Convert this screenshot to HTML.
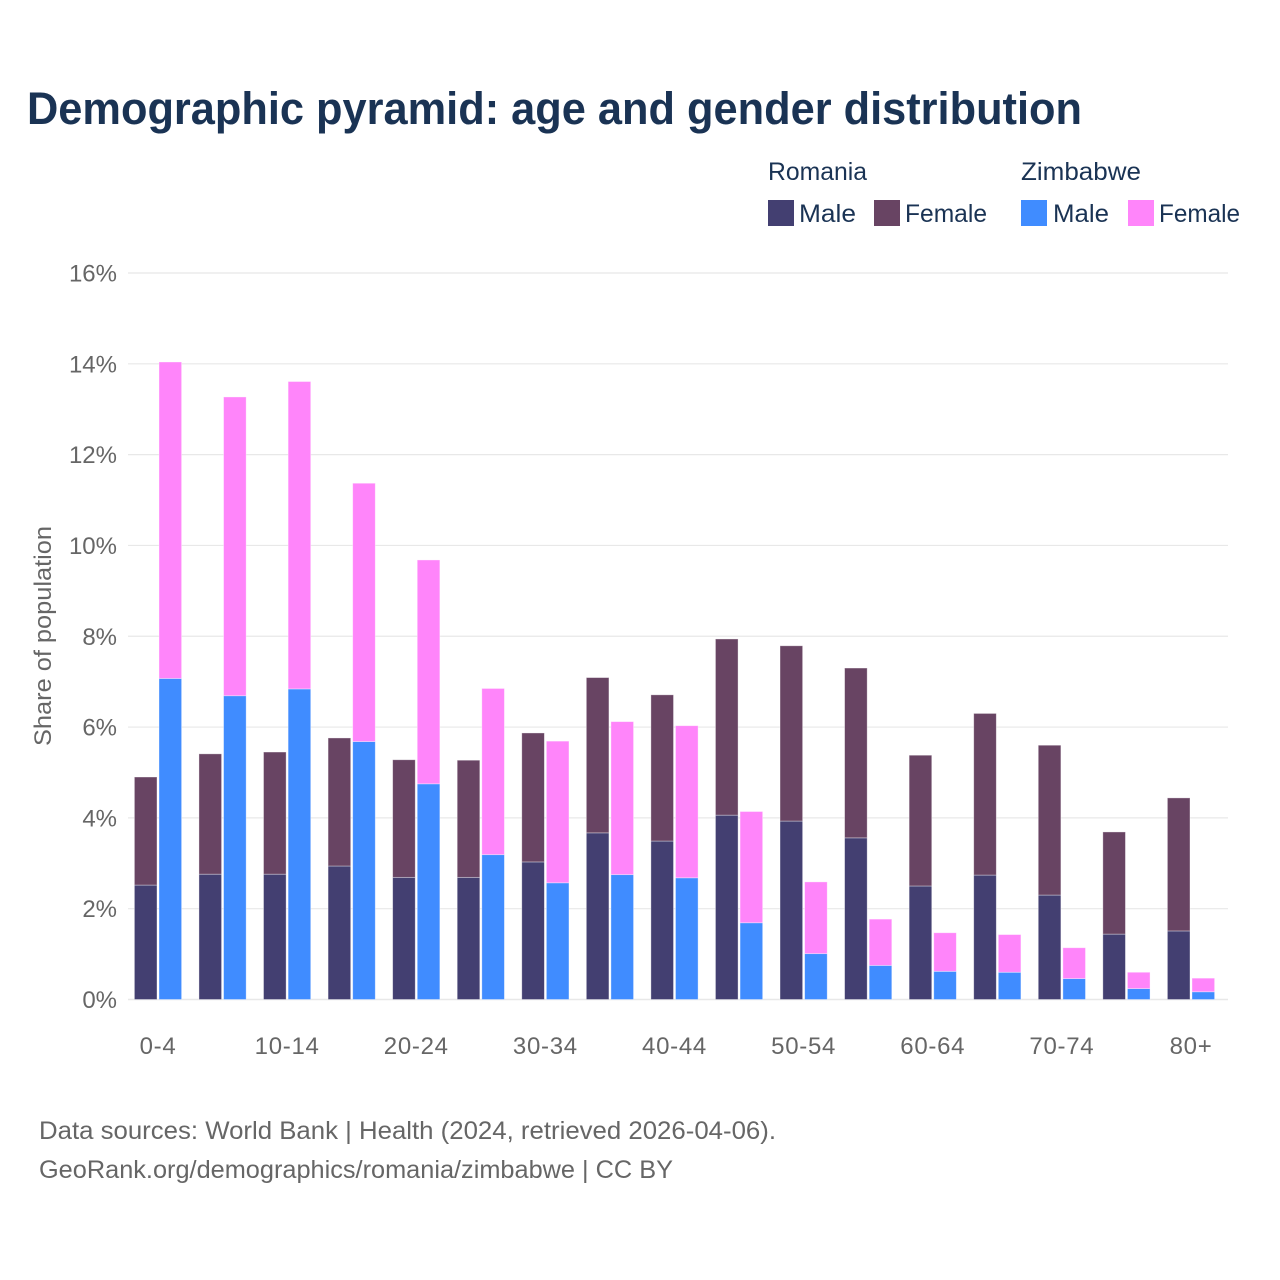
<!DOCTYPE html>
<html lang="en">
<head>
<meta charset="utf-8">
<title>Demographic pyramid</title>
<style>
html,body{margin:0;padding:0;background:#fff;}
svg{display:block;}
text{font-family:"Liberation Sans",sans-serif;}
</style>
</head>
<body>
<svg id="chart" width="1280" height="1280" viewBox="0 0 1280 1280" xmlns="http://www.w3.org/2000/svg">
  <rect width="1280" height="1280" fill="#fff"/>
  <text x="27" y="124" font-size="45" font-weight="700" fill="#1a3354" textLength="1055" lengthAdjust="spacingAndGlyphs">Demographic pyramid: age and gender distribution</text>

  <g font-size="25" fill="#1a3354">
    <text x="768" y="180" textLength="99" lengthAdjust="spacingAndGlyphs">Romania</text>
    <text x="1021" y="180" textLength="120" lengthAdjust="spacingAndGlyphs">Zimbabwe</text>
    <rect x="768" y="200" width="26" height="26" fill="#433f71"/>
    <text x="799" y="222" textLength="57" lengthAdjust="spacingAndGlyphs">Male</text>
    <rect x="874" y="200" width="26" height="26" fill="#684463"/>
    <text x="905" y="222" textLength="82" lengthAdjust="spacingAndGlyphs">Female</text>
    <rect x="1021" y="200" width="26" height="26" fill="#408cff"/>
    <text x="1053" y="222" textLength="56" lengthAdjust="spacingAndGlyphs">Male</text>
    <rect x="1128" y="200" width="26" height="26" fill="#ff85fa"/>
    <text x="1159" y="222" textLength="81" lengthAdjust="spacingAndGlyphs">Female</text>
  </g>

  <g id="grid"></g>
  <g id="bars"></g>
  <g id="yticks"></g>
  <g id="xticks"></g>

  <text transform="translate(51,746) rotate(-90)" font-size="24" fill="#666666" textLength="220" lengthAdjust="spacingAndGlyphs">Share of population</text>

  <text x="39" y="1139" font-size="25" fill="#666666" textLength="737" lengthAdjust="spacingAndGlyphs">Data sources: World Bank | Health (2024, retrieved 2026-04-06).</text>
  <text x="39" y="1178" font-size="25" fill="#666666" textLength="634" lengthAdjust="spacingAndGlyphs">GeoRank.org/demographics/romania/zimbabwe | CC BY</text>
</svg>
<script>
const categories = ["0-4","5-9","10-14","15-19","20-24","25-29","30-34","35-39","40-44","45-49","50-54","55-59","60-64","65-69","70-74","75-79","80+"];
const romaniaMale = [2.52,2.76,2.76,2.94,2.69,2.69,3.03,3.67,3.49,4.06,3.93,3.56,2.50,2.74,2.30,1.44,1.51];
const romaniaFemale = [2.38,2.65,2.69,2.82,2.59,2.58,2.84,3.42,3.22,3.88,3.86,3.74,2.88,3.56,3.30,2.25,2.93];
const zimbabweMale = [7.07,6.69,6.84,5.68,4.75,3.19,2.57,2.75,2.68,1.69,1.01,0.75,0.62,0.60,0.46,0.24,0.17];
const zimbabweFemale = [6.97,6.58,6.77,5.69,4.93,3.66,3.12,3.37,3.35,2.45,1.58,1.02,0.85,0.83,0.68,0.36,0.30];
const yTickValues = [0,2,4,6,8,10,12,14,16];
const xTickEvery = 2;

const NS = "http://www.w3.org/2000/svg";
const yZero = 999.5, yScale = (999.5 - 273) / 16;
const xFirst = 158, xStep = (1191 - 158) / 16;
const barWidth = 22.6, barGap = 2;
function yPos(v) { return yZero - v * yScale; }
function xCenter(i) { return xFirst + xStep * i; }

function makeRect(x, v0, v1, fill) {
  const r = document.createElementNS(NS, "rect");
  r.setAttribute("x", x);
  r.setAttribute("y", yPos(v1));
  r.setAttribute("width", barWidth);
  r.setAttribute("height", yPos(v0) - yPos(v1));
  r.setAttribute("fill", fill);
  r.setAttribute("stroke", "#ffffff");
  r.setAttribute("stroke-opacity", "0.45");
  r.setAttribute("stroke-width", "0.8");
  return r;
}

const grid = document.getElementById("grid");
const yticks = document.getElementById("yticks");
yTickValues.forEach(function (v) {
  const l = document.createElementNS(NS, "line");
  
  
  l.setAttribute("x1", 128);
  l.setAttribute("x2", 1228);
  l.setAttribute("y1", yPos(v));
  l.setAttribute("y2", yPos(v));
  l.setAttribute("stroke", "#e8e8e8");
  l.setAttribute("stroke-width", v === 0 ? 1.6 : 1.2);
  grid.appendChild(l);
  const t = document.createElementNS(NS, "text");
  
  
  t.setAttribute("x", 117);
  t.setAttribute("y", yPos(v) + 8.5);
  t.setAttribute("text-anchor", "end");
  t.setAttribute("font-size", 24);
  t.setAttribute("fill", "#666666");
  t.textContent = v + "%";
  yticks.appendChild(t);
});

const bars = document.getElementById("bars");
const xticks = document.getElementById("xticks");
categories.forEach(function (c, i) {
  const cx = xCenter(i);
  const xL = cx - barGap / 2 - barWidth;
  const xR = cx + barGap / 2;
  const rm = makeRect(xL, 0, romaniaMale[i], "#433f71");
  
  
  bars.appendChild(rm);
  const rf = makeRect(xL, romaniaMale[i], romaniaMale[i] + romaniaFemale[i], "#684463");
  
  
  bars.appendChild(rf);
  const zm = makeRect(xR, 0, zimbabweMale[i], "#408cff");
  
  
  bars.appendChild(zm);
  const zf = makeRect(xR, zimbabweMale[i], zimbabweMale[i] + zimbabweFemale[i], "#ff85fa");
  
  
  bars.appendChild(zf);
  if (i % xTickEvery === 0) {
    const t = document.createElementNS(NS, "text");
    
    
    t.setAttribute("x", cx);
    t.setAttribute("y", 1054);
    t.setAttribute("text-anchor", "middle");
    t.setAttribute("font-size", 24);
    t.setAttribute("letter-spacing", "0.7");
    t.setAttribute("fill", "#666666");
    t.textContent = c;
    xticks.appendChild(t);
  }
});
</script>
</body>
</html>
